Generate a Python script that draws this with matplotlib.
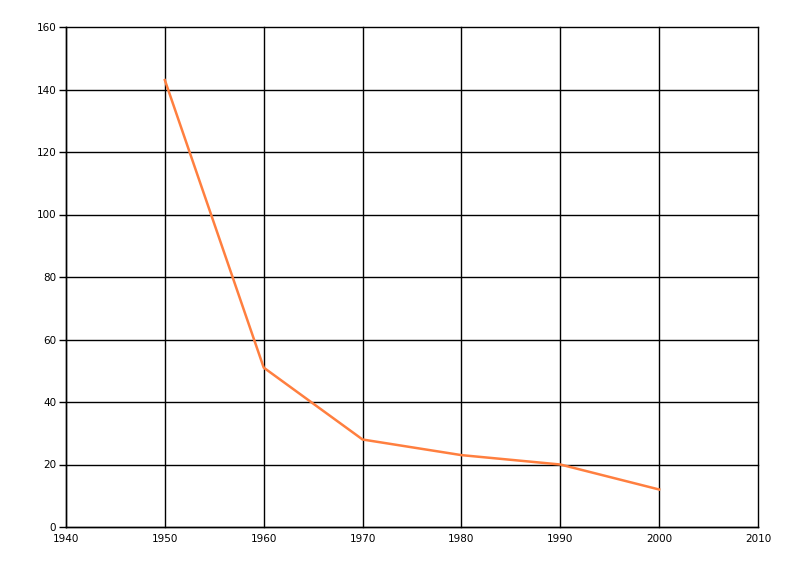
import matplotlib
matplotlib.use("Agg")
import matplotlib.pyplot as plt

years = [1950, 1960, 1970, 1980, 1990, 2000]
values = [143, 51, 28, 23, 20, 12]
x_ticks = [1940, 1950, 1960, 1970, 1980, 1990, 2000, 2010]
y_ticks = [0, 20, 40, 60, 80, 100, 120, 140, 160]

fig = plt.figure(figsize=(8, 5.76), dpi=100)
ax = fig.add_axes([66/800, 1-527/576, (758-66)/800, (527-27)/576])
ax.plot(years, values, color="#FF7F3F", linewidth=1.8, zorder=3)
ax.set_xlim(1940, 2010)
ax.set_ylim(0, 160)
ax.set_xticks(x_ticks)
ax.set_yticks(y_ticks)
ax.grid(True, color="black", linewidth=1)
for gl in ax.get_xgridlines() + ax.get_ygridlines():
    gl.set_clip_on(False)
for s in ["top", "right"]:
    ax.spines[s].set_visible(False)
for s in ["left", "bottom"]:
    ax.spines[s].set_linewidth(1)
ax.tick_params(axis="y", length=5, width=1, labelsize=7.5, pad=2)
ax.tick_params(axis="x", length=0, labelsize=7.5, pad=5)
fig.savefig("out.png", dpi=100)
